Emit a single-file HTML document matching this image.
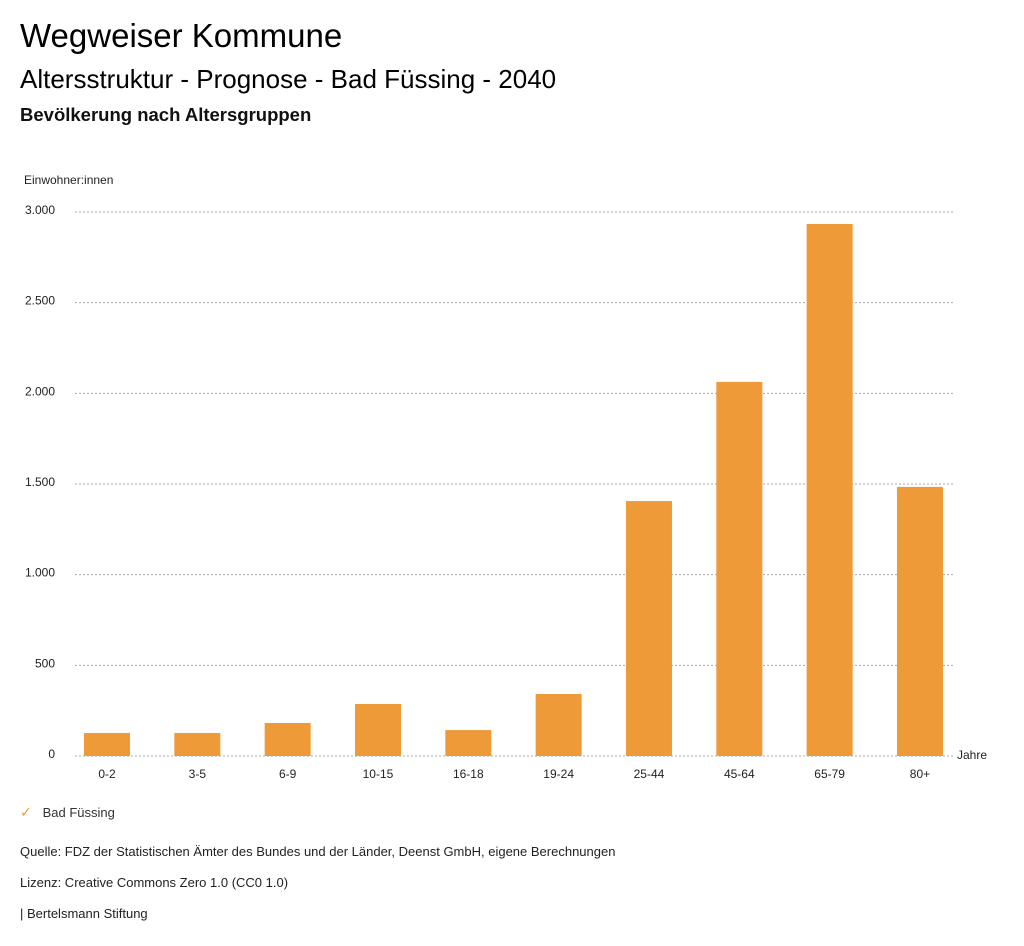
<!DOCTYPE html>
<html><head><meta charset="utf-8"><style>
body{margin:0;background:#fff;font-family:"Liberation Sans","DejaVu Sans",sans-serif;color:#000}
.t{position:absolute;white-space:nowrap}
</style></head><body>
<div style="position:relative;width:1024px;height:946px;overflow:hidden">
<div class="t" style="left:20px;top:17px;font-size:33px">Wegweiser Kommune</div>
<div class="t" style="left:20px;top:64px;font-size:26px">Altersstruktur - Prognose - Bad Füssing - 2040</div>
<div class="t" style="left:20px;top:104px;font-size:18.5px;font-weight:bold;color:#111">Bevölkerung nach Altersgruppen</div>
<svg id="c" width="1024" height="800" style="position:absolute;left:0;top:0"></svg>
<div class="t" style="left:20px;top:804px;font-size:13px;color:#333"><span style="color:#ee9a38;font-size:14px">✓</span>&nbsp;&nbsp;&nbsp;Bad Füssing</div>
<div class="t" style="left:20px;top:844px;font-size:13px;color:#222">Quelle: FDZ der Statistischen Ämter des Bundes und der Länder, Deenst GmbH, eigene Berechnungen</div>
<div class="t" style="left:20px;top:875px;font-size:13px;color:#222">Lizenz: Creative Commons Zero 1.0 (CC0 1.0)</div>
<div class="t" style="left:20px;top:906px;font-size:13px;color:#222">| Bertelsmann Stiftung</div>
</div>
<script>
const categories=["0-2","3-5","6-9","10-15","16-18","19-24","25-44","45-64","65-79","80+"];
const values=[127,127,182,287,143,342,1406,2063,2934,1484];
const yTicks=[0,500,1000,1500,2000,2500,3000];
const yTickLabels=["0","500","1.000","1.500","2.000","2.500","3.000"];
const NS="http://www.w3.org/2000/svg";
const svg=document.getElementById('c');
const y0=756,y1=212,x0=62,bw=90.33;
const y=v=>y0-(v/3000)*(y0-y1);
const x=i=>x0+bw*i;
function mk(t,a){const e=document.createElementNS(NS,t);for(const k in a)e.setAttribute(k,a[k]);svg.appendChild(e);return e;}
yTicks.forEach((v,i)=>{
 const l=mk('line',{x1:75,x2:953,y1:y(v),y2:y(v),stroke:'#aaa','stroke-dasharray':'2,2','stroke-width':1});
 
 
 const t=mk('text',{x:55,y:y(v)+2,'text-anchor':'end','font-size':12,fill:'#222'});
 t.textContent=yTickLabels[i];
 
 
});
const yt=mk('text',{x:24,y:184,'font-size':12,fill:'#222'});yt.textContent='Einwohner:innen';


const xt=mk('text',{x:957,y:759,'font-size':12,fill:'#222'});xt.textContent='Jahre';


categories.forEach((c,i)=>{
 const r=mk('rect',{x:x(i)+22,y:y(values[i]),width:46,height:y0-y(values[i]),fill:'#ee9a38'});
 
 
 const t=mk('text',{x:x(i)+45,y:778,'text-anchor':'middle','font-size':12,fill:'#222'});
 t.textContent=c;
 
 
});
</script>
</body></html>
